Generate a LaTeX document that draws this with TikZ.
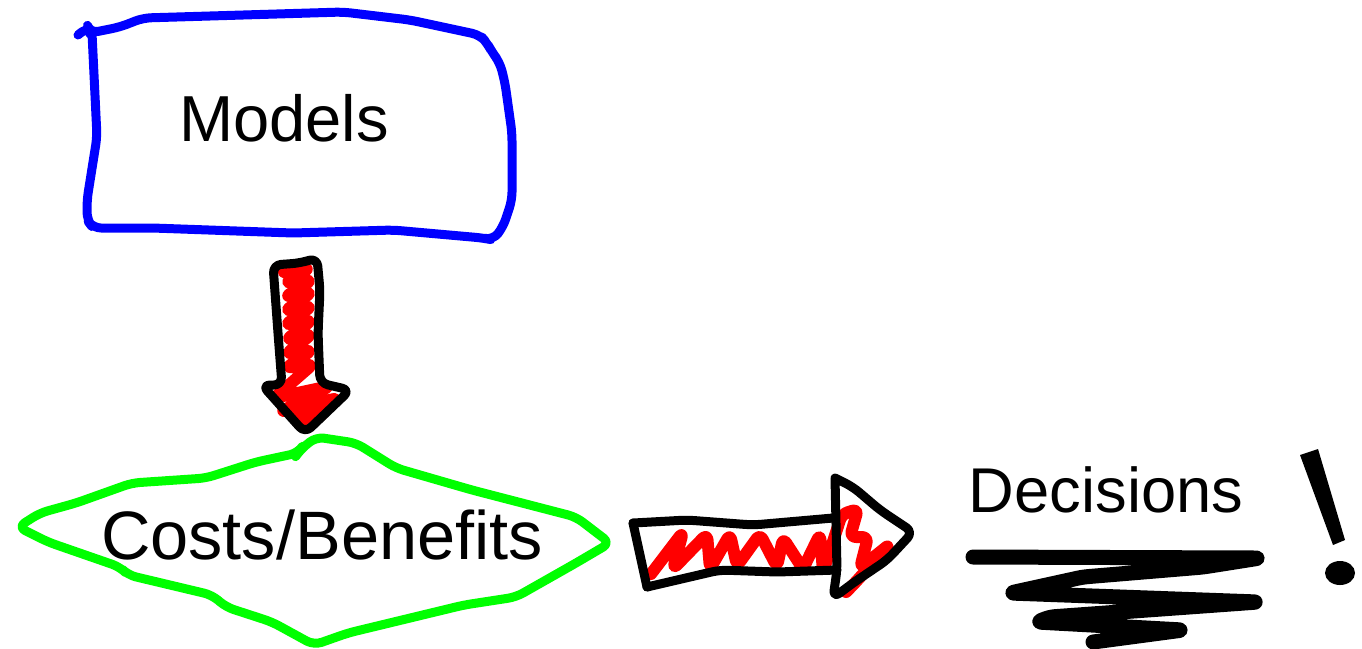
\documentclass[tikz,border=0pt]{standalone}
\usepackage{fontspec}
\setmainfont{Liberation Sans}
\begin{document}
\begin{tikzpicture}[x=0.1mm,y=-0.1mm,line join=round,line cap=round,
    pen/.style={line width=0.9mm,rounded corners=0.8mm},
    scribble/.style={red,line width=1.2mm,rounded corners=0.6mm},
    heavy/.style={line width=1.5mm,rounded corners=0.5mm}]
    \useasboundingbox (0,0) rectangle (1362,648);
    % models box
    \draw[pen,blue] (78,35) -- (88,27) -- (90,33) -- (120,27) -- (143,18) -- (343,12) -- (410,20) -- (480,35)
        -- (487,43) -- (492,52) -- (500,63) -- (505,83) -- (512,133) -- (512,200) -- (503,227) -- (493,240)
        -- (483,238) -- (393,230) -- (293,233) -- (153,228) -- (93,228) -- (87,220) -- (87,200) -- (97,137) -- (92,33);
    \node[font=\fontsize{18.5}{20}\selectfont] (models) at (284,118) {Models};
    % costs/benefits blob
    \draw[pen,green] (316,437) -- (300,450) -- (298,453) -- (256,462) -- (206,478) -- (132,483) -- (76,503)
        -- (40,513) -- (18,527) -- (48,542) -- (120,567) -- (128,575) -- (212,595) -- (226,607) -- (272,622)
        -- (314,645) -- (348,633) -- (464,605) -- (516,597) -- (576,563) -- (610,543) -- (576,517) -- (472,490)
        -- (396,468) -- (356,443) -- cycle;
    \node[font=\fontsize{19.5}{21}\selectfont] (costs) at (322,535) {Costs/Benefits};
    % down arrow
    \draw[scribble] (284,272) -- (310,268) -- (285,283) -- (312,280) -- (285,297) -- (312,292) -- (285,311)
        -- (312,306) -- (285,325) -- (312,320) -- (286,340) -- (312,334) -- (286,354) -- (312,350) -- (286,368)
        -- (313,364) -- (274,398) -- (330,386) -- (280,412) -- (338,398) -- (292,420) -- (326,412) -- (303,426);
    \draw[pen,black] (273,265) -- (300,263) -- (317,258) -- (320,290) -- (318,333) -- (320,383) -- (350,390)
        -- (305,433) -- (262,385) -- (282,385) -- (278,333) -- cycle;
    % right arrow
    \draw[scribble] (651,574) -- (683,532) -- (673,569) -- (707,534) -- (710,569) -- (730,534) -- (737,566)
        -- (760,534) -- (777,567) -- (783,538) -- (803,569) -- (820,534) -- (823,572) -- (842,514) -- (858,509)
        -- (850,537) -- (868,537) -- (860,568) -- (890,544) -- (853,585) -- (846,592);
    \draw[pen,black] (633,523) -- (687,520) -- (753,525) -- (833,518);
    \draw[pen,black] (647,587) -- (720,570) -- (777,572) -- (837,570);
    \draw[pen,black] (633,523) -- (647,587);
    \draw[pen,black] (835,478) -- (853,487) -- (880,510) -- (913,532) -- (887,560) -- (853,583) -- (833,598)
        -- (837,570) -- (835,478);
    % decisions
    \node[font=\fontsize{18}{20}\selectfont] (decisions) at (1106,490) {Decisions};
    \draw[heavy] (973,557) -- (1260,558) -- (1203,567) -- (1083,577) -- (1010,593) -- (1258,602) -- (1050,617)
        -- (1037,622) -- (1183,630) -- (1093,642);
    \fill (1300,455) -- (1318,449) -- (1345,540) -- (1333,545) -- cycle;
    \fill (1340,573) ellipse (15 and 12);
\end{tikzpicture}
\end{document}
